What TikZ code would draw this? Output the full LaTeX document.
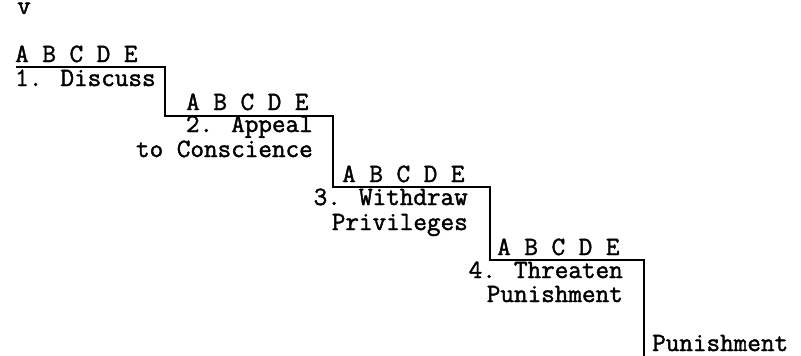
\documentclass[tikz,border=0pt]{standalone}
\usepackage{fontspec}
\newfontfamily\typew[FakeBold=1.6]{Latin Modern Mono}
\begin{document}
\begin{tikzpicture}[x=1pt,y=-1pt,
  lbl/.style={inner sep=0pt,font=\typew\fontsize{26.4}{28}\selectfont},
  stair/.style={line width=1.8pt,line join=miter}]
\useasboundingbox (0,0) rectangle (801,356);
\node[lbl,anchor=base west] (v) at (17,14) {v};
\node[lbl,anchor=base west] (l1) at (15,62) {A B C D E};
\node[lbl,anchor=base west] (t1) at (15,86) {1. Discuss};
\node[lbl,anchor=base west] (l2) at (186,110) {A B C D E};
\node[lbl,anchor=base east] (t2a) at (313,132) {2. Appeal};
\node[lbl,anchor=base east] (t2b) at (313,157) {to Conscience};
\node[lbl,anchor=base west] (l3) at (342,182) {A B C D E};
\node[lbl,anchor=base east] (t3a) at (468,205) {3. Withdraw};
\node[lbl,anchor=base east] (t3b) at (468,230) {Privileges};
\node[lbl,anchor=base west] (l4) at (497,255) {A B C D E};
\node[lbl,anchor=base east] (t4a) at (623,278) {4. Threaten};
\node[lbl,anchor=base east] (t4b) at (623,302) {Punishment};
\node[lbl,anchor=base west] (t5) at (652,351) {Punishment};
\coordinate (s0) at (16,67);
\coordinate (s1) at (165,67);
\coordinate (s2) at (165,116);
\coordinate (s3) at (333,116);
\coordinate (s4) at (333,187);
\coordinate (s5) at (490,187);
\coordinate (s6) at (490,260);
\coordinate (s7) at (644,260);
\coordinate (s8) at (644,356);
\draw[stair] (s0) -- (s1) -- (s2) -- (s3) -- (s4) -- (s5) -- (s6) -- (s7) -- (s8);
\end{tikzpicture}
\end{document}
